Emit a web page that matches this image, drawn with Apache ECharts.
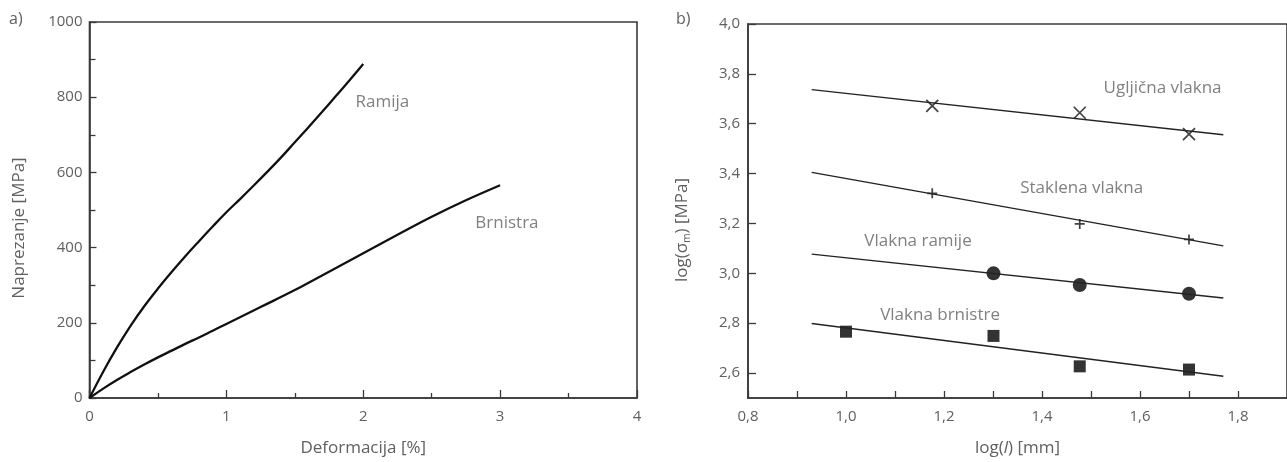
<!DOCTYPE html>
<html>
<head>
<meta charset="utf-8">
<script src="https://cdn.jsdelivr.net/npm/echarts@6/dist/echarts.min.js"></script>
<style>html,body{margin:0;padding:0;background:#fff}#c{width:1287px;height:462px}</style>
</head>
<body>
<div id="c"></div>
<script>
// ---- Panel a) stress-strain curves ----
const ramija = [[0,0],[0.1,70],[0.2,134],[0.3,192],[0.4,244],[0.5,291],[0.6,335],[0.7,377],[0.8,417],[0.9,456],[1.0,494],[1.1,529],[1.2,565],[1.3,602],[1.4,640],[1.5,680],[1.6,720],[1.7,761],[1.8,803],[1.9,845],[2.0,888]];
const brnistra = [[0,0],[0.1,25],[0.2,48],[0.3,69],[0.4,89],[0.5,108],[0.6,126],[0.7,144],[0.8,161],[0.9,179],[1.0,197],[1.25,242],[1.5,287],[1.75,336],[2.0,385],[2.25,434],[2.5,482],[2.75,526],[3.0,566]];
const leftLabels = [["Ramija",2.14,786],["Brnistra",3.05,466]];

// ---- Panel b) log strength vs log length ----
const ugljicnaPts = [[1.176,3.672],[1.477,3.644],[1.70,3.558]];
const staklenaPts = [[1.176,3.321],[1.477,3.198],[1.70,3.136]];
const ramijePts = [[1.301,3.000],[1.477,2.953],[1.70,2.918]];
const brnistrePts = [[1.0,2.766],[1.301,2.749],[1.477,2.627],[1.70,2.614]];
const ugljicnaFit = [[0.93,3.737],[1.77,3.556]];
const staklenaFit = [[0.93,3.405],[1.77,3.110]];
const ramijeFit = [[0.93,3.077],[1.77,2.901]];
const brnistreFit = [[0.93,2.799],[1.77,2.587]];
const rightLabels = [["Ugljična vlakna",1.646,3.742],["Staklena vlakna",1.481,3.341],["Vlakna ramije",1.147,3.131],["Vlakna brnistre",1.192,2.833]];
const rightYTicks = [2.6,2.8,3.0,3.2,3.4,3.6,3.8,4.0];
const rightXLabels = [0.8,1.0,1.2,1.4,1.6,1.8];
const rightXTicks = [0.8,0.9,1.0,1.1,1.2,1.3,1.4,1.5,1.6,1.7,1.8];

const FONT = '"Open Sans","Noto Sans","DejaVu Sans",sans-serif';
const TXT = '#606060';
const AX = '#3a3a3a';
const comma = v => (Math.round(v*10)/10).toFixed(1).replace('.', ',');

const axisLineStyle = {lineStyle:{color:AX,width:1.6}};
const lbl = {color:TXT,fontSize:15,fontFamily:FONT};
const NAMEFS = 17;

const chart = echarts.init(document.getElementById('c'));
chart.setOption({
  animation:false,
  textStyle:{fontFamily:FONT},
  grid:[
    {left:89.5,right:650,top:22,bottom:61.5,show:true,borderColor:AX,borderWidth:1.6,containLabel:false},
    {left:748,right:-5.5,top:24,bottom:60,show:true,borderColor:AX,borderWidth:1.6,containLabel:false}
  ],
  xAxis:[
    {type:'value',gridIndex:0,min:0,max:4,interval:1,
     axisLine:axisLineStyle,splitLine:{show:false},
     axisTick:{inside:true,length:8,lineStyle:{color:AX,width:1.3}},
     minorTick:{show:true,splitNumber:2,length:5,lineStyle:{color:AX,width:1.3}},
     axisLabel:Object.assign({margin:11},lbl),
     name:'Deformacija [%]',nameLocation:'middle',nameGap:42,
     nameTextStyle:{color:TXT,fontSize:NAMEFS,fontFamily:FONT}},
    {type:'value',gridIndex:1,min:0.8,max:1.9,
     axisLine:axisLineStyle,splitLine:{show:false},
     axisTick:{inside:true,length:7,customValues:rightXTicks,lineStyle:{color:AX,width:1.3}},
     axisLabel:Object.assign({margin:11,customValues:rightXLabels,formatter:comma},lbl),
     name:'{a|log(}{i|l}{a|) [mm]}',nameLocation:'middle',nameGap:42,
     nameTextStyle:{color:TXT,fontSize:NAMEFS,fontFamily:FONT,
       rich:{a:{color:TXT,fontSize:NAMEFS,fontFamily:FONT},i:{color:TXT,fontSize:NAMEFS,fontStyle:'italic',fontFamily:FONT}}}}
  ],
  yAxis:[
    {type:'value',gridIndex:0,min:0,max:1000,interval:200,
     axisLine:axisLineStyle,splitLine:{show:false},
     axisTick:{inside:true,length:7,lineStyle:{color:AX,width:1.3}},
     minorTick:{show:true,splitNumber:2,length:6,lineStyle:{color:AX,width:1.3}},
     axisLabel:Object.assign({margin:7,formatter:v=>String(v)},lbl),
     name:'Naprezanje [MPa]',nameLocation:'middle',nameGap:62,
     nameTextStyle:{color:TXT,fontSize:NAMEFS,fontFamily:FONT,padding:[0,36,0,0]}},
    {type:'value',gridIndex:1,min:2.5,max:4.0,
     axisLine:axisLineStyle,splitLine:{show:false},
     axisTick:{inside:true,length:8,customValues:rightYTicks,lineStyle:{color:AX,width:1.3}},
     axisLabel:Object.assign({margin:8,customValues:rightYTicks,formatter:comma},lbl),
     name:'{a|log(σ}{s|m}{a|) [MPa]}',nameLocation:'middle',nameGap:56,
     nameTextStyle:{color:TXT,fontSize:NAMEFS,fontFamily:FONT,padding:[0,38,0,0],
       rich:{a:{color:TXT,fontSize:NAMEFS,fontFamily:FONT,lineHeight:20},s:{color:TXT,fontSize:10,fontFamily:FONT,lineHeight:11,verticalAlign:'bottom'}}}}
  ],
  graphic:[
    {type:'text',left:9,top:11,style:{text:'a)',fill:TXT,font:'16px '+FONT}},
    {type:'text',left:676,top:11,style:{text:'b)',fill:TXT,font:'16px '+FONT}}
  ],
  series:[
    {type:'line',xAxisIndex:0,yAxisIndex:0,data:ramija,smooth:0.4,showSymbol:false,lineStyle:{color:'#111',width:2.3}},
    {type:'line',xAxisIndex:0,yAxisIndex:0,data:brnistra,smooth:0.4,showSymbol:false,lineStyle:{color:'#111',width:2.3}},
    {type:'scatter',xAxisIndex:0,yAxisIndex:0,symbolSize:0,silent:true,
     data:leftLabels.map(d=>({name:d[0],value:[d[1],d[2]]})),
     label:{show:true,position:'inside',formatter:'{b}',color:TXT,fontSize:NAMEFS,fontFamily:FONT}},

    {type:'line',xAxisIndex:1,yAxisIndex:1,data:ugljicnaFit,showSymbol:false,lineStyle:{color:'#222',width:1.4}},
    {type:'line',xAxisIndex:1,yAxisIndex:1,data:staklenaFit,showSymbol:false,lineStyle:{color:'#222',width:1.4}},
    {type:'line',xAxisIndex:1,yAxisIndex:1,data:ramijeFit,showSymbol:false,lineStyle:{color:'#222',width:1.4}},
    {type:'line',xAxisIndex:1,yAxisIndex:1,data:brnistreFit,showSymbol:false,lineStyle:{color:'#222',width:1.4}},
    {type:'scatter',xAxisIndex:1,yAxisIndex:1,data:ugljicnaPts,symbol:'path://M0,0L10,10M10,0L0,10',symbolSize:12,
     itemStyle:{color:'none',borderColor:'#111',borderWidth:1.7}},
    {type:'scatter',xAxisIndex:1,yAxisIndex:1,data:staklenaPts,symbol:'path://M5,0L5,10M0,5L10,5',symbolSize:10,
     itemStyle:{color:'none',borderColor:'#111',borderWidth:1.7}},
    {type:'scatter',xAxisIndex:1,yAxisIndex:1,data:ramijePts,symbol:'circle',symbolSize:14,itemStyle:{color:'#000'}},
    {type:'scatter',xAxisIndex:1,yAxisIndex:1,data:brnistrePts,symbol:'rect',symbolSize:12,itemStyle:{color:'#000'}},
    {type:'scatter',xAxisIndex:1,yAxisIndex:1,symbolSize:0,silent:true,
     data:rightLabels.map(d=>({name:d[0],value:[d[1],d[2]]})),
     label:{show:true,position:'inside',formatter:'{b}',color:TXT,fontSize:NAMEFS,fontFamily:FONT}}
  ]
});
</script>
</body>
</html>
